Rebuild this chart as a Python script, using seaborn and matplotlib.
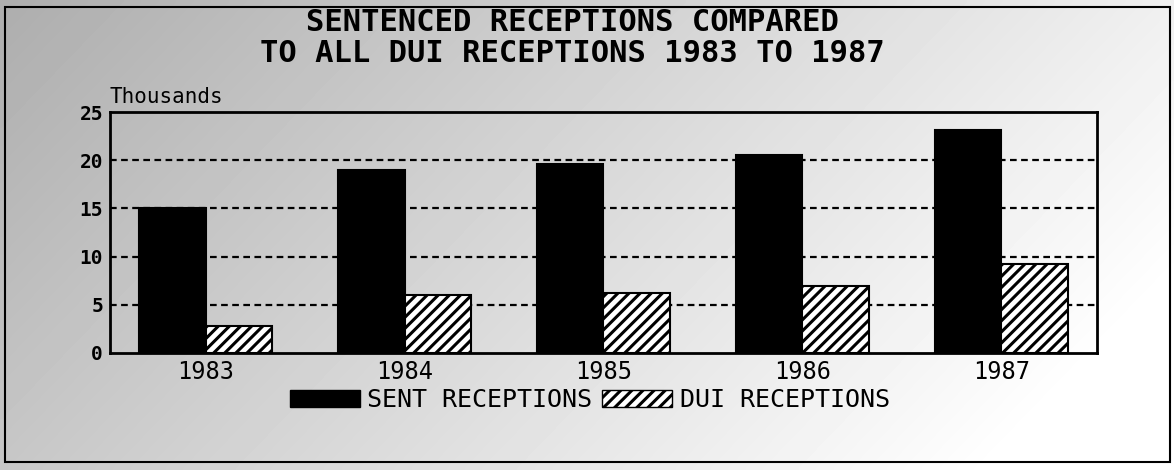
import numpy as np
import pandas as pd
import matplotlib
matplotlib.use('Agg')
import matplotlib.pyplot as plt
from matplotlib.patches import Patch, Rectangle
import seaborn as sns

# data (thousands)
years = ['1983', '1984', '1985', '1986', '1987']
sent_receptions = [15.0, 19.0, 19.6, 20.5, 23.1]
dui_receptions = [2.8, 6.0, 6.2, 7.0, 9.2]
series_names = ['SENT RECEPTIONS', 'DUI RECEPTIONS']
title_lines = ['SENTENCED RECEPTIONS COMPARED', 'TO ALL DUI RECEPTIONS 1983 TO 1987']

df = pd.DataFrame({
    'year': years * 2,
    'value': sent_receptions + dui_receptions,
    'series': [series_names[0]] * len(years) + [series_names[1]] * len(years),
})

sns.set_style('white')
plt.rcParams['font.family'] = ['DejaVu Sans Mono', 'DejaVu Sans']
plt.rcParams['text.color'] = 'black'
plt.rcParams['xtick.color'] = 'black'
plt.rcParams['ytick.color'] = 'black'
plt.rcParams['hatch.linewidth'] = 2.2

fig = plt.figure(figsize=(11.74, 4.70), dpi=100)

# grey photocopy-like background, darker at the top left
bg = fig.add_axes([0, 0, 1, 1], zorder=-5)
gx = np.linspace(0, 1, 300)
gy = np.linspace(0, 1, 120)
GX, GY = np.meshgrid(gx, gy)
shade = np.clip(0.68 + 0.26 * GX + 0.10 * GY, 0, 1)
bg.imshow(shade, cmap='gray', vmin=0, vmax=1, aspect='auto',
          extent=[0, 1, 1, 0], interpolation='bilinear')
bg.add_patch(Rectangle((5 / 1174, 8 / 470), 1165 / 1174, 455 / 470,
                       fill=False, edgecolor='black', linewidth=1.5,
                       transform=bg.transAxes))
bg.set_xlim(0, 1)
bg.set_ylim(1, 0)
bg.axis('off')

ax = fig.add_axes([110 / 1174, 1 - 353 / 470, 987 / 1174, 241 / 470])
ax.patch.set_alpha(0)

sns.barplot(data=df, x='year', y='value', hue='series', ax=ax,
            palette={series_names[0]: 'black', series_names[1]: 'white'},
            width=0.67, edgecolor='black', linewidth=1.5, legend=False,
            saturation=1, zorder=3)
for bar in ax.containers[1]:
    bar.set_hatch('///')

ax.set_ylim(0, 25)
ax.set_xlim(-0.48, 4.48)
ax.set_yticks([0, 5, 10, 15, 20, 25])
ax.set_yticklabels(['0', '5', '10', '15', '20', '25'], fontsize=14, fontweight='bold')
ax.set_xticklabels(years, fontsize=17)
ax.tick_params(axis='both', length=0, pad=5)
ax.set_xlabel('')
ax.set_ylabel('')

for v in [5, 10, 15, 20]:
    ax.axhline(v, color='black', linestyle=(0, (3, 2)), linewidth=1.6, zorder=1)

for side in ax.spines.values():
    side.set_visible(True)
    side.set_color('black')
    side.set_linewidth(2)

ax.text(0.0, 1.02, 'Thousands', transform=ax.transAxes, fontsize=15,
        ha='left', va='bottom')

fig.text(572 / 1174, 1 - 38 / 470, '\n'.join(title_lines), ha='center',
         va='center', fontsize=22, fontweight='bold', linespacing=1.1)

handles = [Patch(facecolor='black', edgecolor='black'),
           Patch(facecolor='white', edgecolor='black', hatch='///')]
fig.legend(handles, series_names, loc='center', ncol=2,
           bbox_to_anchor=(590 / 1174, 1 - 400 / 470), frameon=False,
           fontsize=18, handlelength=2.8, handleheight=0.7,
           handletextpad=0.3, columnspacing=0.4)

fig.savefig('out.png', dpi=100)
